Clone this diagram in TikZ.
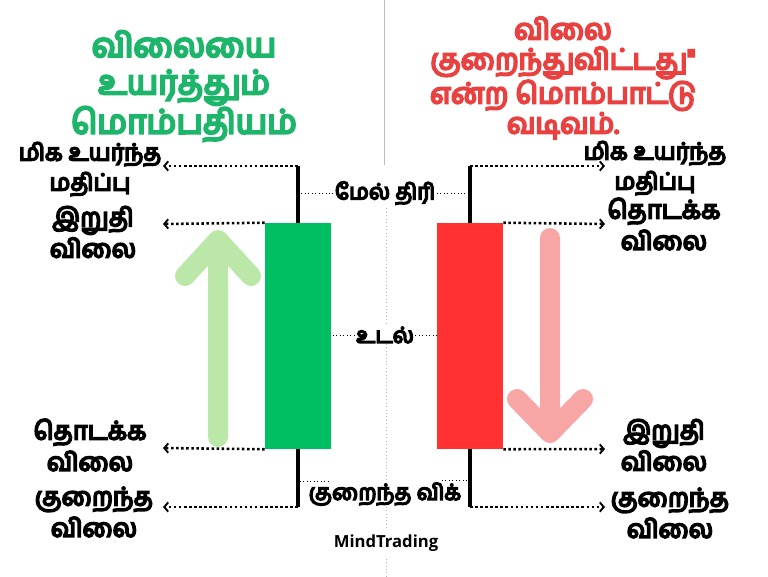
\documentclass[tikz,border=0pt]{standalone}
\usepackage{fontspec}
\newfontfamily\tamil[Script=Tamil, FakeBold=7]{Hind Madurai}
\setsansfont{Open Sans}
\usetikzlibrary{arrows.meta}
\definecolor{mGreen}{HTML}{00BF63}
\definecolor{mRed}{HTML}{FF3131}
\definecolor{mLeaf}{HTML}{BBE8A8}
\definecolor{mRose}{HTML}{F8A5A5}
\definecolor{mTitleG}{HTML}{1DB56A}
\definecolor{mTitleR}{HTML}{E8413F}

\begin{document}
\begin{tikzpicture}[x=0.75pt, y=-0.75pt,
    lab/.style={font=\tamil\fontsize{19}{23.5}\selectfont, align=center, inner sep=1pt},
    hilab/.style={font=\tamil\fontsize{17.5}{22.5}\selectfont, align=center, inner sep=1pt},
    midlab/.style={font=\tamil\fontsize{16.5}{18}\selectfont, fill=white, inner sep=1pt},
    wick/.style={line width=3.5pt},
    ptr/.style={line width=1.9pt, dash pattern=on 1.9pt off 1.9pt, -{Straight Barb[length=3pt,width=7pt,line width=1.4pt]}},
    tie/.style={line width=0.6pt, dotted},
    bigarrow/.style={line width=15pt, line cap=round, line join=round}]
    \useasboundingbox[fill=white] (0,0) rectangle (768,576);

    % divider
    \draw[gray!50, line width=0.6pt] (384,0) -- (384,165);
    \draw[gray!60, line width=0.6pt, dotted] (386,205) -- (386,576);

    % trend arrows
    \draw[bigarrow, mLeaf] (218,437) -- (218,240) (185,276) -- (218,240) -- (251,276);
    \draw[bigarrow, mRose] (550,238) -- (550,433) (517,399) -- (550,433) -- (583,399);

    % candles
    \node[fill=mGreen, minimum width=49.5pt, minimum height=169.5pt, inner sep=0] (gbody) at (298,336) {};
    \node[fill=mRed, minimum width=49.5pt, minimum height=169.5pt, inner sep=0] (rbody) at (470,336) {};
    \coordinate (ghi) at (298,166);
    \coordinate (glo) at (298,507);
    \coordinate (rhi) at (470,166);
    \coordinate (rlo) at (470,507);

    \coordinate (gLhi) at (163,166);
    \coordinate (gLclose) at (163,224);
    \coordinate (gLopen) at (163,448);
    \coordinate (gLlow) at (163,507);
    \coordinate (rRhi) at (605,166);
    \coordinate (rRopen) at (605,224);
    \coordinate (rRclose) at (605,449);
    \coordinate (rRlow) at (605,507);
    \foreach \s/\t in {ghi/gLhi, gbody.north west/gLclose, gbody.south west/gLopen, glo/gLlow,
                       rhi/rRhi, rbody.north east/rRopen, rbody.south east/rRclose, rlo/rRlow}
      \draw[ptr] (\s) -- (\t);

    \draw[wick] (ghi) -- (gbody.north);
    \draw[wick] (gbody.south) -- (glo);
    \draw[wick] (rhi) -- (rbody.north);
    \draw[wick] (rbody.south) -- (rlo);

    % middle labels
    \node[midlab] (upper) at (385,193) {மேல் திரி};
    \draw[tie] (upper.west) -- (upper.west -| ghi);
    \draw[tie] (upper.east) -- (upper.east -| rhi);
    \node[midlab] (body) at (385,335) {உடல்};
    \draw[tie] (body.west) -- (gbody.east |- body.west);
    \draw[tie] (body.east) -- (rbody.west |- body.east);
    \node[midlab] (lower) at (385,494) {குறைந்த விக்};
    \coordinate (gwl) at (300,481);
    \coordinate (gwr) at (330,481);
    \coordinate (rwl) at (442,480);
    \coordinate (rwr) at (468,480);
    \draw[tie] (gwl) -- (gwr);
    \draw[tie] (rwl) -- (rwr);
    \node[font=\sffamily\bfseries\fontsize{12.5}{14}\selectfont, fill=white] (brand) at (386,543) {MindTrading};

    % titles
    \node[font=\tamil\fontsize{25}{28}\selectfont, text=mTitleG, align=center] (bull) at (184,86) {விலையை\\உயர்த்தும்\\மொம்பதியம்};
    \node[font=\tamil\fontsize{21.5}{22.5}\selectfont, text=mTitleR, align=center] (bear) at (563,78) {விலை\\குறைந்துவிட்டது"\\என்ற மொம்பாட்டு\\வடிவம்.};

    % side labels
    \node[hilab] (lhi) at (90,169) {மிக உயர்ந்த\\மதிப்பு};
    \node[lab] (lclose) at (93,232) {இறுதி\\விலை};
    \node[lab] (lopen) at (90,445) {தொடக்க\\விலை};
    \node[lab] (llow) at (94,512) {குறைந்த\\விலை};
    \node[hilab] (rhilab) at (655,168) {மிக உயர்ந்த\\மதிப்பு};
    \node[lab] (ropen) at (664,224) {தொடக்க\\விலை};
    \node[lab] (rclose) at (664,445) {இறுதி\\விலை};
    \node[lab] (rlow) at (670,513) {குறைந்த\\விலை};
\end{tikzpicture}
\end{document}
